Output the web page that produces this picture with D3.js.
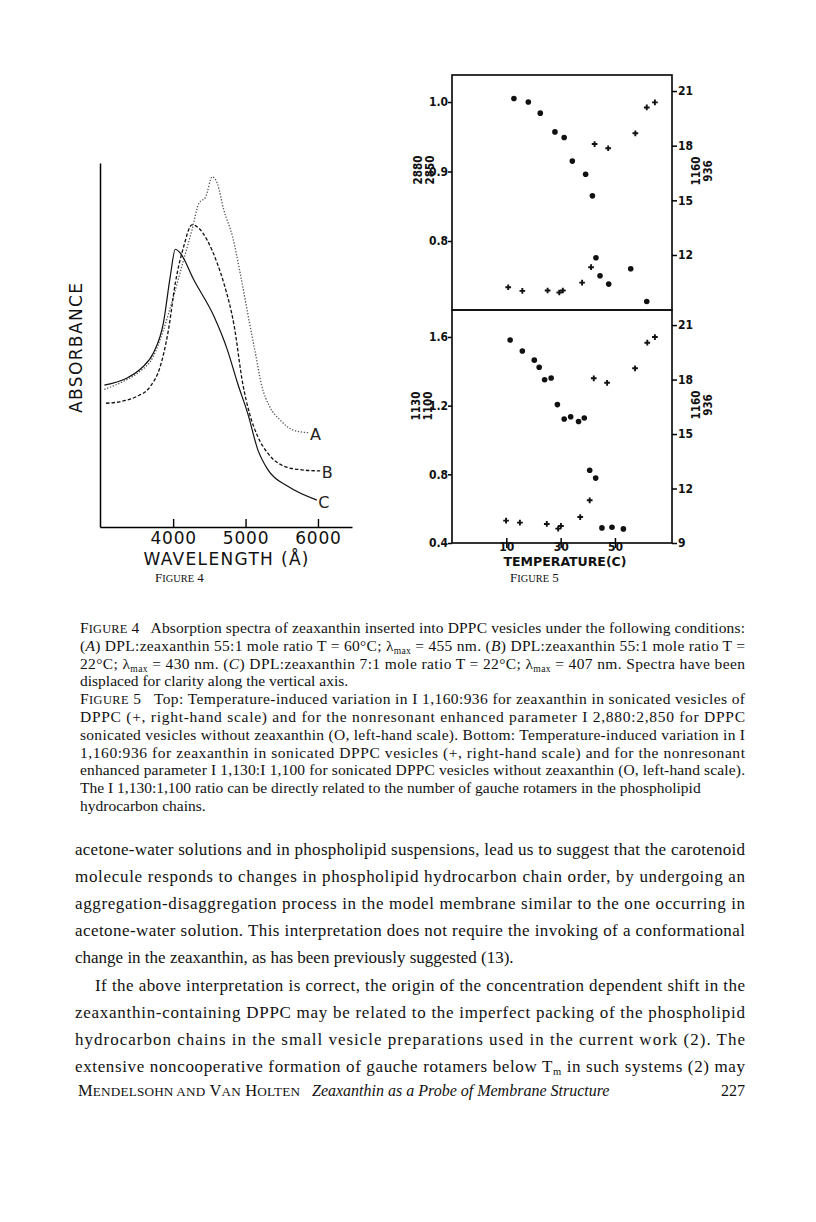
<!DOCTYPE html>
<html>
<head>
  <meta charset="utf-8">
  <title>zeaxanthin page 227</title>
  <script src="https://d3js.org/d3.v7.min.js"></script>
  <style>
    body { margin: 0; background: #fff; }
    text { white-space: pre; }
  </style>
</head>
<body>
  <svg width="816" height="1222" id="mainsvg"></svg>
  <script>
    // ---- Figure 4 : absorption spectra (absorbance in arbitrary units, displaced) ----
    const waveA = [3050, 3350, 3538, 3725, 3865, 4005, 4145, 4260, 4355, 4450, 4540, 4610, 4700, 4820, 4935, 5055, 5145, 5215, 5335, 5477, 5661, 5868];
    const absA  = [37.8, 40.4, 42.7, 46.8, 54.1, 63.3, 73.4, 81.6, 88.9, 90.7, 96.2, 94.4, 87.1, 79.8, 68.8, 56.0, 46.8, 39.5, 33.0, 29.4, 26.6, 25.9];
    const waveB = [3073, 3260, 3490, 3680, 3820, 3935, 4030, 4145, 4260, 4330, 4470, 4610, 4700, 4845, 4960, 5055, 5170, 5310, 5545, 5775, 6030];
    const absB  = [34.0, 34.4, 35.8, 38.5, 44.0, 54.1, 67.0, 77.0, 83.0, 82.5, 78.8, 72.4, 67.0, 55.0, 39.5, 31.2, 24.8, 20.2, 16.6, 15.7, 15.4];
    const waveC = [3050, 3350, 3560, 3725, 3865, 3960, 4030, 4100, 4285, 4565, 4750, 4890, 5030, 5170, 5310, 5590, 5985];
    const absC  = [39.0, 40.8, 43.6, 47.7, 56.0, 68.8, 76.3, 75.2, 67.9, 57.8, 48.6, 39.5, 31.2, 21.2, 15.7, 11.1, 7.4];
    const waveTicks = [4000, 5000, 6000];

    // ---- Figure 5 : temperature dependence ----
    // top panel: O = I 2880:2850 (left), + = I 1160:936 (right)
    const tempTopO = [12.8, 18.1, 22.5, 27.9, 31.3, 34.3, 39.2, 41.7, 43.0, 44.5, 47.7, 55.8, 61.7];
    const valTopO  = [1.005, 1.0, 0.984, 0.957, 0.949, 0.915, 0.896, 0.865, 0.776, 0.750, 0.738, 0.760, 0.713];
    const tempTopP = [10.7, 15.9, 25.2, 29.5, 30.8, 37.9, 41.2, 42.5, 47.5, 57.5, 61.7, 64.7];
    const valTopP  = [10.23, 10.03, 10.05, 9.94, 10.05, 10.48, 11.33, 18.09, 17.86, 18.68, 20.1, 20.38];
    // bottom panel: O = I 1130:1100 (left), + = I 1160:936 (right)
    const tempBotO = [11.4, 15.9, 20.3, 22.1, 24.1, 26.5, 28.8, 31.3, 33.7, 36.6, 38.7, 40.7, 42.9, 45.2, 48.9, 53.1];
    const valBotO  = [1.582, 1.518, 1.465, 1.424, 1.351, 1.361, 1.206, 1.122, 1.135, 1.108, 1.128, 0.824, 0.778, 0.488, 0.492, 0.482];
    const tempBotP = [9.9, 15.0, 24.9, 29.1, 30.1, 37.2, 40.7, 42.2, 47.1, 57.4, 61.9, 64.7];
    const valBotP  = [10.23, 10.12, 10.05, 9.79, 9.94, 10.43, 11.35, 18.07, 17.82, 18.62, 20.03, 20.34];
    const tempTicks = [10, 30, 50];
    const topLeftTicks = [0.8, 0.9, 1.0];
    const topRightTicks = [12, 15, 18, 21];
    const botLeftTicks = [0.4, 0.8, 1.2, 1.6];
    const botRightTicks = [9, 12, 15, 18, 21];

    const svg = d3.select('#mainsvg');
    const serif = '"Liberation Serif", "Times New Roman", serif';
    const sans = '"DejaVu Sans", sans-serif';
    const cond = '"DejaVu Sans Condensed", "DejaVu Sans", sans-serif';

    // ================= Figure 4 =================
    const g4 = svg.append('g');
    const x4 = d3.scaleLinear().domain([2990, 6470]).range([100, 352]);
    const y4 = d3.scaleLinear().domain([0, 100]).range([527, 163]);

    const ax4 = g4.append('g').attr('transform', 'translate(0,527)')
      .call(d3.axisBottom(x4).tickValues(waveTicks).tickSizeInner(-8).tickSizeOuter(0).tickFormat(d3.format('d')));
    ax4.select('.domain').attr('stroke-width', 1.5);
    ax4.selectAll('.tick line').attr('stroke-width', 1.4);
    ax4.selectAll('.tick text').attr('y', 11).attr('dy', '0.35em')
      .attr('font-family', sans).attr('font-size', 17).attr('letter-spacing', 0.8).attr('fill', '#111');
    const ay4 = g4.append('g').attr('transform', 'translate(100,0)')
      .call(d3.axisLeft(y4).tickValues([]).tickSizeOuter(0));
    ay4.select('.domain').attr('stroke-width', 1.5);

    const line4 = d3.line().x(d => x4(d[0])).y(d => y4(d[1])).curve(d3.curveMonotoneX);
    const curves = [
      { name: 'A', wave: waveA, abs: absA, dash: '1.3,1.7', color: '#555', w: 1.3 },
      { name: 'B', wave: waveB, abs: absB, dash: '3.5,2', color: '#111', w: 1.3 },
      { name: 'C', wave: waveC, abs: absC, dash: null, color: '#111', w: 1.2 }
    ];
    curves.forEach(c => {
      const pts = c.wave.map((w, i) => [w, c.abs[i]]);
      g4.append('path').attr('d', line4(pts)).attr('fill', 'none')
        .attr('stroke', c.color).attr('stroke-width', c.w)
        .attr('stroke-dasharray', c.dash);
      const last = pts[pts.length - 1];
      g4.append('text').text(c.name)
        .attr('x', x4(last[0]) + 7).attr('y', y4(last[1]) + 2)
        .attr('text-anchor', 'middle').attr('dominant-baseline', 'central')
        .attr('font-family', sans).attr('font-size', 16).attr('fill', '#222');
    });

    g4.append('text').text('WAVELENGTH (Å)')
      .attr('x', 226).attr('y', 559).attr('text-anchor', 'middle').attr('dominant-baseline', 'central')
      .attr('font-family', sans).attr('font-size', 17).attr('textLength', 165).attr('lengthAdjust', 'spacing').attr('fill', '#111');
    g4.append('text').text('ABSORBANCE')
      .attr('transform', 'translate(76,348) rotate(-90)')
      .attr('text-anchor', 'middle').attr('dominant-baseline', 'central')
      .attr('font-family', sans).attr('font-size', 17).attr('textLength', 130).attr('lengthAdjust', 'spacing').attr('fill', '#111');

    // ================= Figure 5 =================
    const g5 = svg.append('g');
    const x5 = d3.scaleLinear().domain([-10, 71]).range([452, 672]);
    const yTopL = d3.scaleLinear().domain([0.7007, 1.0389]).range([310, 75]);
    const yTopR = d3.scaleLinear().domain([8.98, 21.88]).range([310, 75]);
    const yBotL = d3.scaleLinear().domain([0.4, 1.757]).range([543, 310]);
    const yBotR = d3.scaleLinear().domain([9, 21.83]).range([543, 310]);

    g5.append('rect').attr('x', 452).attr('y', 75).attr('width', 220).attr('height', 235)
      .attr('fill', 'none').attr('stroke', '#111').attr('stroke-width', 1.7);
    g5.append('rect').attr('x', 452).attr('y', 310).attr('width', 220).attr('height', 233)
      .attr('fill', 'none').attr('stroke', '#111').attr('stroke-width', 1.7);

    function styleAxis(sel, side) {
      sel.select('.domain').remove();
      sel.selectAll('.tick line').attr('stroke-width', 1.5);
      sel.selectAll('.tick text').attr('font-family', cond).attr('font-weight', 'bold')
        .attr('font-size', 12).attr('fill', '#111');
      if (side === 'left') sel.selectAll('.tick text').attr('x', -4);
      if (side === 'right') sel.selectAll('.tick text').attr('x', 6);
    }
    const f1 = d3.format('.1f');
    styleAxis(g5.append('g').attr('transform', 'translate(452,0)')
      .call(d3.axisLeft(yTopL).tickValues(topLeftTicks).tickSize(4).tickFormat(f1)), 'left');
    styleAxis(g5.append('g').attr('transform', 'translate(672,0)')
      .call(d3.axisRight(yTopR).tickValues(topRightTicks).tickSize(5)), 'right');
    styleAxis(g5.append('g').attr('transform', 'translate(452,0)')
      .call(d3.axisLeft(yBotL).tickValues(botLeftTicks).tickSize(4).tickFormat(f1)), 'left');
    styleAxis(g5.append('g').attr('transform', 'translate(672,0)')
      .call(d3.axisRight(yBotR).tickValues(botRightTicks).tickSize(5)), 'right');

    const ax5 = g5.append('g').attr('transform', 'translate(0,543)')
      .call(d3.axisBottom(x5).tickValues(tempTicks).tickSize(5));
    ax5.select('.domain').remove();
    ax5.selectAll('.tick line').attr('y1', -5).attr('y2', 5).attr('stroke-width', 1.5);
    ax5.selectAll('.tick text').attr('y', 4).attr('dy', '0.35em')
      .attr('font-family', cond).attr('font-weight', 'bold').attr('font-size', 12).attr('fill', '#111');

    g5.append('text').text('TEMPERATURE(C)')
      .attr('x', 565).attr('y', 561).attr('text-anchor', 'middle').attr('dominant-baseline', 'central')
      .attr('font-family', cond).attr('font-weight', 'bold').attr('font-size', 13)
      .attr('textLength', 123).attr('lengthAdjust', 'spacingAndGlyphs').attr('fill', '#111');

    // stacked ratio labels, rotated
    function ratioLabel(cx, cy, num, den) {
      const lg = g5.append('g').attr('transform', `translate(${cx},${cy}) rotate(-90)`);
      [[num, -6], [den, 6]].forEach(([t, dy]) => {
        lg.append('text').text(t).attr('x', 0).attr('y', dy)
          .attr('text-anchor', 'middle').attr('dominant-baseline', 'central')
          .attr('font-family', cond).attr('font-weight', 'bold').attr('font-size', 11.5).attr('fill', '#111');
      });
    }
    ratioLabel(424, 170, '2880', '2850');
    ratioLabel(702, 171, '1160', '936');
    ratioLabel(422, 406, '1130', '1100');
    ratioLabel(702, 405, '1160', '936');

    const plus = d3.symbol().type(d3.symbolCross).size(18);
    function plotPanel(tO, vO, tP, vP, yL, yR) {
      g5.append('g').selectAll('circle').data(tO.map((t, i) => [t, vO[i]])).join('circle')
        .attr('cx', d => x5(d[0])).attr('cy', d => yL(d[1])).attr('r', 2.8).attr('fill', '#111');
      g5.append('g').selectAll('path').data(tP.map((t, i) => [t, vP[i]])).join('path')
        .attr('d', plus).attr('transform', d => `translate(${x5(d[0])},${yR(d[1])})`).attr('fill', '#111');
    }
    plotPanel(tempTopO, valTopO, tempTopP, valTopP, yTopL, yTopR);
    plotPanel(tempBotO, valBotO, tempBotP, valBotP, yBotL, yBotR);

    // ================= captions and text =================
    function richLine(x, y, size, segs, width) {
      const t = svg.append('text').attr('x', x).attr('y', y)
        .attr('font-family', serif).attr('font-size', size).attr('fill', '#111');
      let shift = 0;
      segs.forEach(s => {
        const [txt, kind] = typeof s === 'string' ? [s, ''] : s;
        const ts = t.append('tspan').text(txt);
        if (kind === 'i') ts.attr('font-style', 'italic');
        if (kind === 'sc') ts.attr('font-size', size * 0.8);
        if (kind === 'sub') { ts.attr('font-size', size * 0.62).attr('dy', 3 - shift); shift = 3; }
        else if (shift) { ts.attr('dy', -shift); shift = 0; }
      });
      if (width) t.attr('textLength', width).attr('lengthAdjust', 'spacing');
      return t;
    }

    richLine(155, 582, 13, ['F', ['IGURE', 'sc'], ' 4']);
    richLine(510, 582, 13, ['F', ['IGURE', 'sc'], ' 5']);

    const capX = 80, capW = 665, capSize = 15.5;
    const captionLines = [
      ['F', ['IGURE', 'sc'], ' 4   Absorption spectra of zeaxanthin inserted into DPPC vesicles under the following conditions:'],
      ['(', ['A', 'i'], ') DPL:zeaxanthin 55:1 mole ratio T = 60°C; λ', ['max', 'sub'], ' = 455 nm. (', ['B', 'i'], ') DPL:zeaxanthin 55:1 mole ratio T ='],
      ['22°C; λ', ['max', 'sub'], ' = 430 nm. (', ['C', 'i'], ') DPL:zeaxanthin 7:1 mole ratio T = 22°C; λ', ['max', 'sub'], ' = 407 nm. Spectra have been'],
      ['displaced for clarity along the vertical axis.'],
      ['F', ['IGURE', 'sc'], ' 5   Top: Temperature-induced variation in I 1,160:936 for zeaxanthin in sonicated vesicles of'],
      ['DPPC (+, right-hand scale) and for the nonresonant enhanced parameter I 2,880:2,850 for DPPC'],
      ['sonicated vesicles without zeaxanthin (O, left-hand scale). Bottom: Temperature-induced variation in I'],
      ['1,160:936 for zeaxanthin in sonicated DPPC vesicles (+, right-hand scale) and for the nonresonant'],
      ['enhanced parameter I 1,130:I 1,100 for sonicated DPPC vesicles without zeaxanthin (O, left-hand scale).'],
      ['The I 1,130:1,100 ratio can be directly related to the number of gauche rotamers in the phospholipid'],
      ['hydrocarbon chains.']
    ];
    const capJust = [true, true, true, false, true, true, true, true, true, false, false];
    captionLines.forEach((segs, i) => {
      richLine(capX, 633 + i * 17.8, capSize, segs, capJust[i] ? capW : null);
    });

    const bodyLines = [
      ['acetone-water solutions and in phospholipid suspensions, lead us to suggest that the carotenoid'],
      ['molecule responds to changes in phospholipid hydrocarbon chain order, by undergoing an'],
      ['aggregation-disaggregation process in the model membrane similar to the one occurring in'],
      ['acetone-water solution. This interpretation does not require the invoking of a conformational'],
      ['change in the zeaxanthin, as has been previously suggested (13).'],
      ['If the above interpretation is correct, the origin of the concentration dependent shift in the'],
      ['zeaxanthin-containing DPPC may be related to the imperfect packing of the phospholipid'],
      ['hydrocarbon chains in the small vesicle preparations used in the current work (2). The'],
      ['extensive noncooperative formation of gauche rotamers below T', ['m', 'sub'], ' in such systems (2) may']
    ];
    const bodyJust = [true, true, true, true, false, true, true, true, true];
    bodyLines.forEach((segs, i) => {
      const indent = i === 5 ? 20 : 0;
      richLine(75 + indent, 855 + i * 27.1, 17, segs, bodyJust[i] ? 670 - indent : null);
    });

    // running footer
    richLine(78, 1096, 16.5, ['M', ['ENDELSOHN AND', 'sc'], ' V', ['AN', 'sc'], ' H', ['OLTEN', 'sc']], 222);
    richLine(312, 1096, 16, [['Zeaxanthin as a Probe of Membrane Structure', 'i']]);
    svg.append('text').text('227').attr('x', 745).attr('y', 1096).attr('text-anchor', 'end')
      .attr('font-family', serif).attr('font-size', 16).attr('fill', '#111');
  </script>
</body>
</html>
